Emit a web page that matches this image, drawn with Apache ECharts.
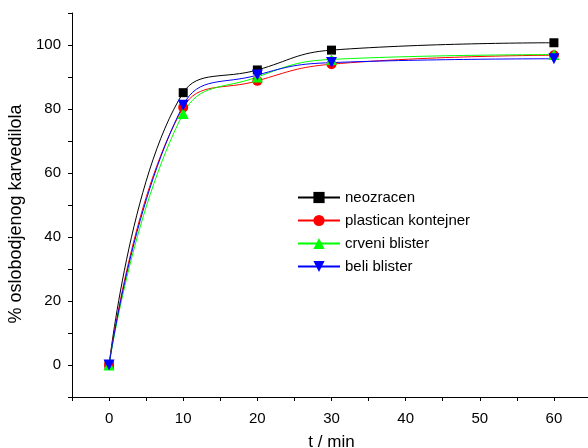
<!DOCTYPE html>
<html>
<head>
<meta charset="utf-8">
<script src="https://cdn.jsdelivr.net/npm/echarts@6/dist/echarts.min.js"></script>
<style>
  html, body { margin: 0; padding: 0; background: #fff; }
  #chart { width: 588px; height: 448px; }
</style>
</head>
<body>
<div id="chart"></div>
<script>
var times = [0, 10, 20, 30, 60];
var neozracen = [0, 85.1, 92.2, 98.4, 100.7];
var plastican = [0, 80.5, 88.8, 94.0, 96.8];
var crveni = [0, 78.6, 90.0, 95.5, 97.0];
var beli = [0, 81.2, 90.6, 94.5, 95.7];

var names = ['neozracen', 'plastican kontejner', 'crveni blister', 'beli blister'];
var colors = ['#000000', '#ff0000', '#00ff00', '#0000ff'];

function pairs(vals) {
    var arr = [];
    for (var i = 0; i < times.length; i++) {
        arr.push([times[i], vals[i]]);
    }
    return arr;
}

function makeSeries(name, vals, color, symbol, size, rotate) {
    return {
        name: name,
        type: 'line',
        smooth: 0.45,
        data: pairs(vals),
        symbol: symbol,
        symbolSize: size,
        symbolRotate: rotate || 0,
        showAllSymbol: true,
        lineStyle: { color: color, width: 1 },
        itemStyle: { color: color, borderWidth: 0 },
        emphasis: { disabled: true },
        z: 2
    };
}

var font = 'Liberation Sans, Arial, sans-serif';
var myChart = echarts.init(document.getElementById('chart'));
var option = {
    animation: false,
    textStyle: { fontFamily: font },
    grid: { left: 72, right: -3, top: 13, bottom: 51, containLabel: false, outerBoundsMode: 'none' },
    legend: {
        orient: 'vertical',
        left: 297,
        top: 190,
        padding: 0,
        itemWidth: 42,
        itemHeight: 14,
        itemGap: 8,
        textStyle: { fontSize: 15, color: '#000', fontFamily: font },
        data: names
    },
    xAxis: {
        type: 'value',
        min: -5,
        max: 65,
        interval: 5,
        name: 't / min',
        nameLocation: 'middle',
        nameGap: 37,
        nameTextStyle: { fontSize: 17, color: '#000' },
        splitLine: { show: false },
        axisLine: { onZero: false, lineStyle: { color: '#000', width: 1 } },
        axisTick: { length: 4, lineStyle: { color: '#000' } },
        axisLabel: {
            margin: 14,
            fontSize: 15,
            color: '#000',
            formatter: function (v) {
                return (v % 10 === 0 && v >= 0 && v <= 60) ? String(v) : '';
            }
        }
    },
    yAxis: {
        type: 'value',
        min: -10,
        max: 110,
        interval: 10,
        name: '% oslobodjenog karvedilola',
        nameLocation: 'middle',
        nameGap: 45,
        nameTextStyle: { fontSize: 18, color: '#000', padding: [0, 18, 0, 0] },
        splitLine: { show: false },
        axisLine: { onZero: false, lineStyle: { color: '#000', width: 1 } },
        axisTick: { length: 4, lineStyle: { color: '#000' } },
        axisLabel: {
            margin: 11,
            fontSize: 15,
            color: '#000',
            formatter: function (v) {
                return (v % 20 === 0 && v >= 0 && v <= 100) ? String(v) : '';
            }
        }
    },
    series: [
        makeSeries(names[0], neozracen, colors[0], 'rect', 9),
        makeSeries(names[1], plastican, colors[1], 'circle', 10),
        makeSeries(names[2], crveni, colors[2], 'triangle', 11),
        makeSeries(names[3], beli, colors[3], 'triangle', 11, 180)
    ]
};
myChart.setOption(option, true);
</script>
</body>
</html>
